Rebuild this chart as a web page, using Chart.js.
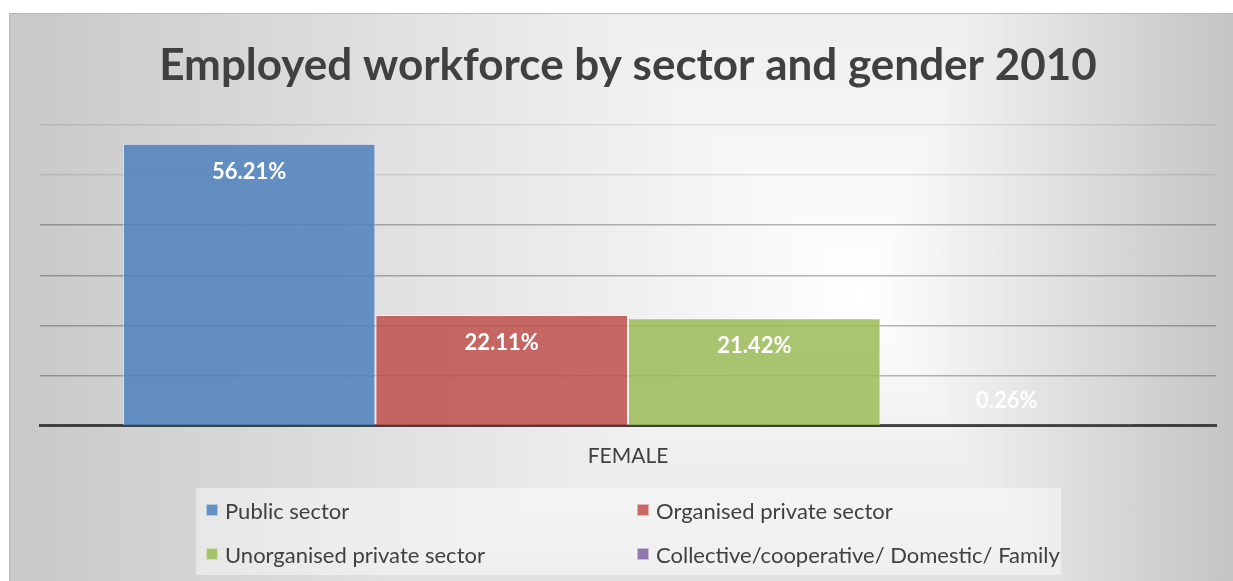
<!DOCTYPE html>
<html>
<head>
<meta charset="utf-8">
<script src="https://cdn.jsdelivr.net/npm/chart.js@4.4.1/dist/chart.umd.min.js"></script>
<style>
  body { margin: 0; background: #fff; }
  #frame {
    position: absolute; left: 9px; top: 13px; width: 1224px; height: 568px;
    box-sizing: border-box;
    border-left: 1px solid #b8b8b8; border-top: 1px solid #b8b8b8;
    background:
      linear-gradient(to right, #c8c8c8 0%, #ffffff 70%, #c4c4c4 100%),
      linear-gradient(to bottom, #eeeeee 0%, #ffffff 50%, #e2e2e2 100%);
    background-blend-mode: darken;
    font-family: Lato, "Open Sans", sans-serif;
  }
  #frame canvas { position: absolute; left: 0; top: 0; }
  #legend {
    position: absolute; left: 186px; top: 474px; width: 865px; height: 87px;
    background: rgba(255,255,255,0.45);
    display: grid; grid-template-columns: 431px 434px; grid-template-rows: 44px 44px;
    align-items: center;
  }
  #legend .item { display: flex; align-items: center; padding-left: 10px; color: #404040; font-size: 22px; white-space: nowrap; }
  #legend .box { width: 12px; height: 12px; margin-right: 7px; box-sizing: border-box; border: 1px solid rgba(255,255,255,0.5); }
</style>
</head>
<body>
<div id="frame">
  <canvas id="workforceChart" width="1223" height="567"></canvas>
  <div id="legend"></div>
</div>
<script>
const categories = ['FEMALE'];
const sectors = [
  'Public sector',
  'Organised private sector',
  'Unorganised private sector',
  'Collective/cooperative/ Domestic/ Family'
];
const shares = [56.21, 22.11, 21.42, 0.26];
const sector_colors = [
  'rgba(79, 129, 189, 0.86)',
  'rgba(192, 80, 77, 0.86)',
  'rgba(155, 187, 89, 0.86)',
  'rgba(128, 100, 162, 0.86)'
];

// white percentage labels, inside the top of each bar (above it if the bar is too short)
const barLabels = {
  id: 'barLabels',
  afterDatasetsDraw(chart) {
    const ctx = chart.ctx;
    ctx.save();
    ctx.font = 'bold 22px Lato, "Open Sans", sans-serif';
    ctx.fillStyle = '#ffffff';
    ctx.textAlign = 'center';
    ctx.textBaseline = 'middle';
    chart.data.datasets.forEach((ds, i) => {
      chart.getDatasetMeta(i).data.forEach((bar, j) => {
        const h = bar.base - bar.y;
        const y = h > 40 ? bar.y + 28 : bar.y - 24;
        ctx.fillText(ds.data[j].toFixed(2) + '%', bar.x, y);
      });
    });
    ctx.restore();
  }
};

const workforce_data = {
  labels: categories,
  datasets: sectors.map((name, i) => ({
    label: name,
    data: [shares[i]],
    backgroundColor: sector_colors[i],
    borderColor: 'rgba(255,255,255,0.55)',
    borderWidth: 1
  }))
};

const workforce_config = {
  type: 'bar',
  data: workforce_data,
  options: {
    responsive: false,
    animation: false,
    layout: { padding: { left: 30, right: 17, top: 0, bottom: 102 } },
    datasets: { bar: { categoryPercentage: 0.859, barPercentage: 1.0 } },
    scales: {
      x: {
        grid: { display: false },
        border: { display: true, color: '#404040', width: 3 },
        ticks: { color: '#404040', padding: 10, font: { family: 'Lato, "Open Sans", sans-serif', size: 21 } }
      },
      y: {
        min: 0,
        max: 60,
        ticks: { display: false, stepSize: 10 },
        border: { display: false },
        grid: {
          drawTicks: false,
          lineWidth: 1.5,
          color: (c) => c.tick && c.tick.value >= 50 ? 'rgba(0,0,0,0.09)' : 'rgba(0,0,0,0.28)'
        }
      }
    },
    plugins: {
      legend: { display: false },
      tooltip: { enabled: false },
      title: {
        display: true,
        text: 'Employed workforce by sector and gender 2010',
        color: '#404040',
        font: { family: 'Lato, "Open Sans", sans-serif', size: 44, weight: 'bold' },
        padding: { top: 25, bottom: 33 }
      }
    }
  },
  plugins: [barLabels]
};

const workforceChart = new Chart(document.getElementById('workforceChart'), workforce_config);

// two-column legend built from the chart's datasets
const legend_el = document.getElementById('legend');
workforceChart.data.datasets.forEach((ds) => {
  const item = document.createElement('div');
  item.className = 'item';
  const box = document.createElement('span');
  box.className = 'box';
  box.style.background = ds.backgroundColor;
  item.appendChild(box);
  item.appendChild(document.createTextNode(ds.label));
  legend_el.appendChild(item);
});
</script>
</body>
</html>
